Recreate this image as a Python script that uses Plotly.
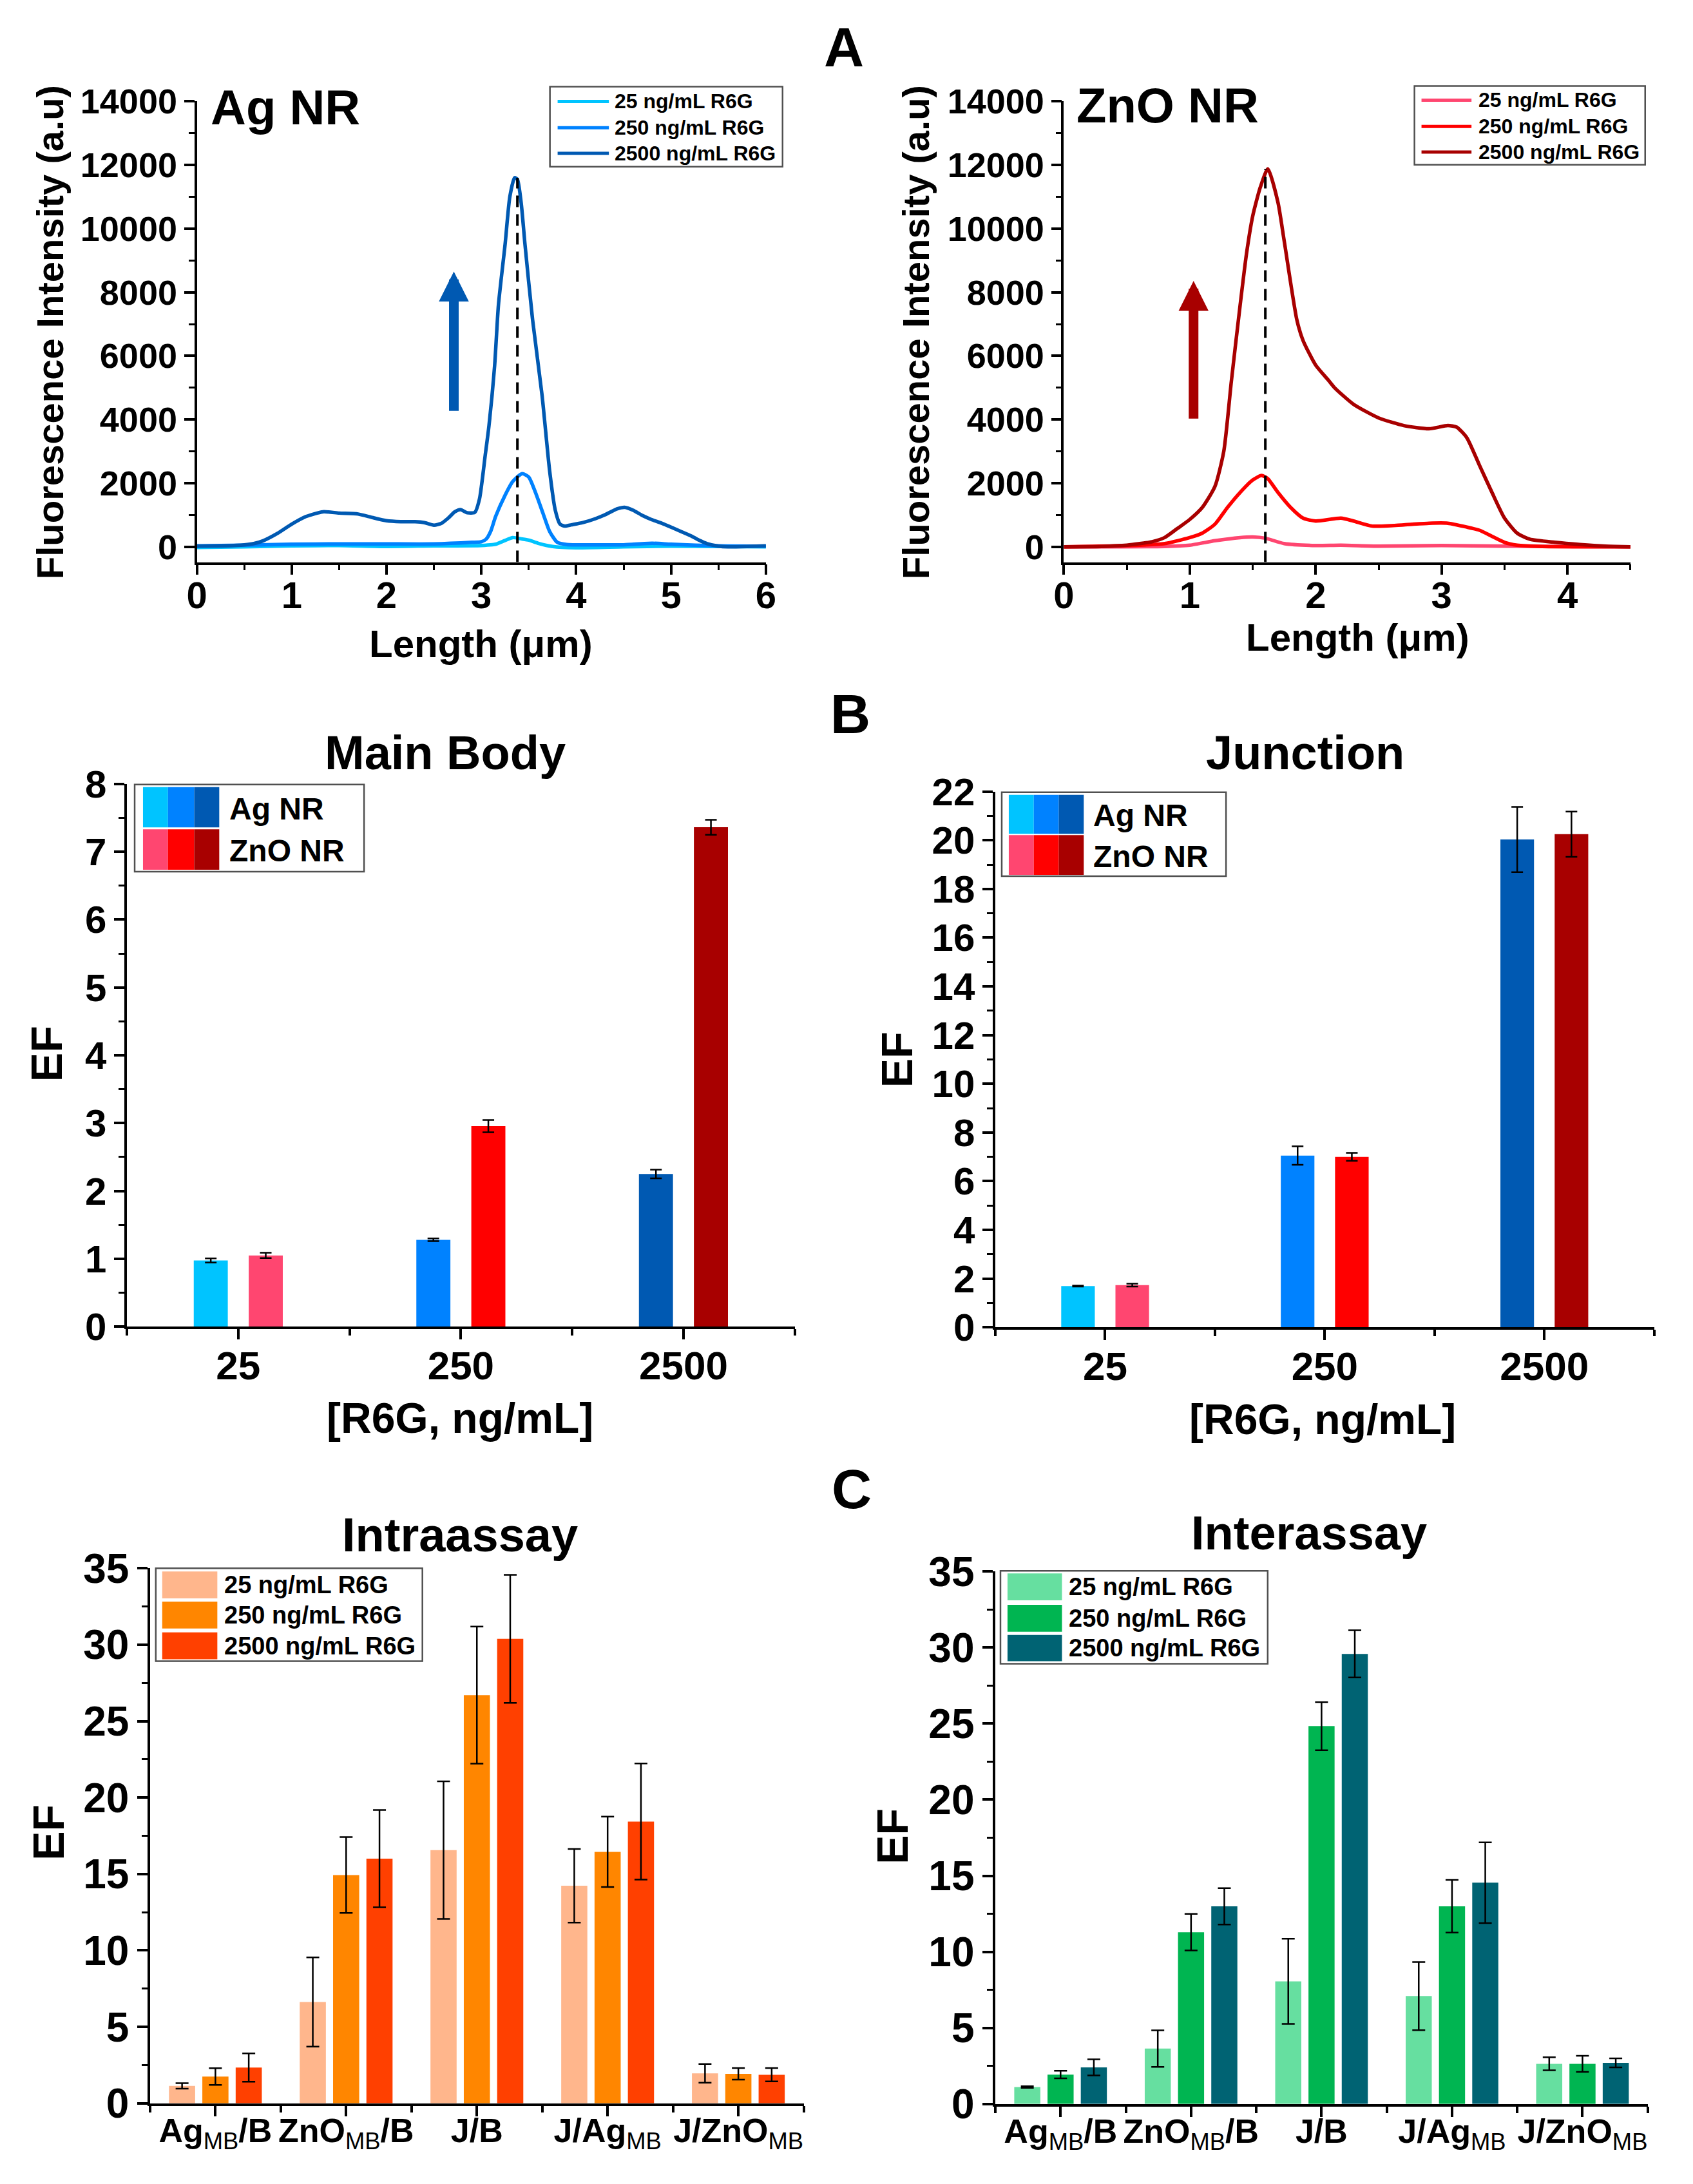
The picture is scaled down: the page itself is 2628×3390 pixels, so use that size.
import plotly.graph_objects as go

W, H = 2628, 3390
FONT = "Liberation Sans"

# ---- panel A : fluorescence line profiles ----
ag25_x = [0.0, 0.5, 1.0, 1.5, 2.0, 2.5, 3.0, 3.15, 3.25, 3.33, 3.42, 3.5, 3.6, 3.75, 4.0, 4.5, 5.0, 5.5, 6.0]
ag25_y = [-20, 0, 30, 40, 10, 30, 40, 80, 200, 290, 250, 210, 110, 10, -30, 0, 20, 10, 0]
ag250_x = [0.0, 0.5, 1.0, 1.5, 2.0, 2.5, 2.9, 3.0, 3.05, 3.1, 3.15, 3.25, 3.33, 3.43, 3.5, 3.57, 3.65,
           3.72, 3.8, 3.9, 4.2, 4.5, 4.8, 5.0, 5.5, 6.0]
ag250_y = [30, 50, 80, 90, 90, 90, 140, 160, 240, 500, 950, 1620, 2050, 2300, 2190, 1710, 1050,
           480, 140, 70, 60, 60, 110, 80, 30, 20]
ag2500_x = [0.0, 0.3, 0.5, 0.6, 0.7, 0.85, 1.0, 1.15, 1.33, 1.5, 1.7, 1.85, 2.0, 2.15, 2.3, 2.4, 2.5,
            2.58, 2.65, 2.72, 2.78, 2.85, 2.93, 2.98, 3.04, 3.08, 3.14, 3.18, 3.25, 3.3, 3.35, 3.38,
            3.42, 3.46, 3.54, 3.64, 3.72, 3.78, 3.83, 3.88, 3.95, 4.07, 4.2, 4.3, 4.43, 4.51, 4.6,
            4.7, 4.79, 4.9, 5.02, 5.12, 5.22, 5.3, 5.38, 5.5, 5.6, 5.8, 6.0]
ag2500_y = [20, 30, 60, 100, 190, 420, 710, 950, 1100, 1060, 1030, 920, 820, 790, 790, 760, 680,
            740, 900, 1100, 1170, 1070, 1080, 1500, 2860, 3800, 5700, 7600, 9500, 11000, 11600, 11550,
            10800, 9500, 7140, 4760, 2380, 1140, 710, 650, 690, 760, 880, 1000, 1190, 1240, 1150,
            980, 860, 740, 590, 460, 330, 200, 100, 20, 0, 10, 30]

zn25_x = [0.0, 0.8, 1.0, 1.2, 1.4, 1.5, 1.6, 1.75, 2.0, 2.2, 2.5, 3.0, 3.5, 4.0, 4.5]
zn25_y = [0, 10, 50, 190, 290, 310, 270, 100, 40, 50, 20, 40, 20, 10, 0]
zn250_x = [0.0, 0.6, 0.8, 1.0, 1.1, 1.2, 1.3, 1.4, 1.5, 1.57, 1.62, 1.7, 1.8, 1.9, 2.0, 2.2, 2.3,
           2.45, 2.7, 2.9, 3.05, 3.2, 3.3, 3.4, 3.5, 3.6, 3.8, 4.5]
zn250_y = [0, 50, 100, 290, 430, 710, 1240, 1710, 2100, 2240, 2140, 1710, 1240, 900, 810, 900, 810,
           650, 690, 740, 740, 620, 520, 330, 140, 50, 10, 0]
zn2500_x = [0.0, 0.3, 0.5, 0.7, 0.8, 0.9, 1.0, 1.1, 1.2, 1.27, 1.33, 1.4, 1.45, 1.5, 1.56, 1.62, 1.7,
            1.75, 1.85, 1.9, 2.0, 2.1, 2.15, 2.3, 2.5, 2.7, 2.9, 3.05, 3.12, 3.2, 3.3, 3.4, 3.5,
            3.6, 3.7, 3.9, 4.1, 4.3, 4.5]
zn2500_y = [0, 10, 50, 160, 290, 570, 860, 1240, 1900, 3000, 5200, 7600, 9200, 10400, 11300, 11880, 10830,
            9610, 7140, 6480, 5710, 5240, 5000, 4480, 4050, 3810, 3710, 3810, 3760, 3430, 2570, 1710, 900,
            430, 240, 140, 70, 20, 0]

ag_peak = (3.38, 11600)
zn_peak = (1.60, 11880)
ag_arrow = (2.71, 4240, 8650)   # x, tail, tip
zn_arrow = (1.03, 4000, 8360)

conc_names = ["25 ng/mL R6G", "250 ng/mL R6G", "2500 ng/mL R6G"]
ag_colors = ["#00C4FF", "#0082FF", "#0059B2"]
zn_colors = ["#FF4670", "#FF0000", "#A80000"]

# ---- panel B : EF main body / junction ----
conc_labels = ["25", "250", "2500"]
mb_ag = [0.975, 1.28, 2.25]
mb_ag_err = [0.03, 0.02, 0.065]
mb_zn = [1.05, 2.955, 7.36]
mb_zn_err = [0.04, 0.09, 0.11]
jn_ag = [1.69, 7.05, 20.03]
jn_ag_err = [0.02, 0.38, 1.34]
jn_zn = [1.73, 7.0, 20.25]
jn_zn_err = [0.06, 0.16, 0.93]

# ---- panel C : intra / inter assay ----
ratio_labels = ["Ag<sub><span style='font-weight:normal'>MB</span></sub>/B",
                "ZnO<sub><span style='font-weight:normal'>MB</span></sub>/B",
                "J/B",
                "J/Ag<sub><span style='font-weight:normal'>MB</span></sub>",
                "J/ZnO<sub><span style='font-weight:normal'>MB</span></sub>"]
intra = [[1.14, 6.63, 16.56, 14.23, 1.96],
         [1.75, 14.93, 26.7, 16.45, 1.93],
         [2.34, 16.0, 30.38, 18.43, 1.87]]
intra_err = [[0.18, 2.92, 4.5, 2.41, 0.61],
             [0.55, 2.48, 4.48, 2.3, 0.38],
             [0.93, 3.18, 4.19, 3.8, 0.44]]
inter = [[1.11, 3.64, 8.06, 7.09, 2.64],
         [1.93, 11.29, 24.83, 12.99, 2.64],
         [2.4, 12.99, 29.58, 14.54, 2.7]]
inter_err = [[0.05, 1.2, 2.8, 2.24, 0.43],
             [0.25, 1.2, 1.58, 1.73, 0.53],
             [0.53, 1.2, 1.55, 2.65, 0.3]]
intra_colors = ["#FFB68C", "#FF8600", "#FF4000"]
inter_colors = ["#66DFA0", "#00B551", "#006373"]


# the page comes out slightly shifted/shrunk, so pixel targets are corrected here
def X(px):
    return ((px - 20) / 0.993) / W


def Y(py):
    return 1 - ((py - 43) / 0.984) / H


def bfont(size):
    return dict(family=FONT, size=size, color="black", weight="bold")


def axis(dom, rng, size, **kw):
    d = dict(domain=dom, range=rng, showline=True, linecolor="black", linewidth=3.5,
             ticks="outside", ticklen=16, tickwidth=3.5, tickcolor="black",
             showgrid=False, zeroline=False, tickfont=bfont(size))
    d.update(kw)
    return d


fig = go.Figure()

# line profiles
for xs, ys, c, n in zip([ag25_x, ag250_x, ag2500_x], [ag25_y, ag250_y, ag2500_y], ag_colors, conc_names):
    fig.add_trace(go.Scatter(x=xs, y=ys, mode="lines", name=n, line=dict(color=c, width=5.5, shape="spline", smoothing=0.6),
                             xaxis="x", yaxis="y", showlegend=False))
for xs, ys, c, n in zip([zn25_x, zn250_x, zn2500_x], [zn25_y, zn250_y, zn2500_y], zn_colors, conc_names):
    fig.add_trace(go.Scatter(x=xs, y=ys, mode="lines", name=n, line=dict(color=c, width=5.5, shape="spline", smoothing=0.6),
                             xaxis="x2", yaxis="y2", showlegend=False))
A_YMIN = -483
fig.add_trace(go.Scatter(x=[ag_peak[0]] * 2, y=[A_YMIN, ag_peak[1]], mode="lines",
                         line=dict(color="black", width=4, dash="18px,11px"), xaxis="x", yaxis="y", showlegend=False))
fig.add_trace(go.Scatter(x=[zn_peak[0]] * 2, y=[A_YMIN, zn_peak[1]], mode="lines",
                         line=dict(color="black", width=4, dash="18px,11px"), xaxis="x2", yaxis="y2", showlegend=False))

# EF bars, panel B
pos3 = [0, 1, 2]
for xa, ya, ag, age, zn, zne in [("x3", "y3", mb_ag, mb_ag_err, mb_zn, mb_zn_err),
                                 ("x4", "y4", jn_ag, jn_ag_err, jn_zn, jn_zn_err)]:
    fig.add_trace(go.Bar(x=pos3, y=ag, width=0.153, offset=-0.2, marker=dict(color=ag_colors, line=dict(width=0)),
                         error_y=dict(type="data", array=age, color="black", thickness=2.5, width=9),
                         xaxis=xa, yaxis=ya, showlegend=False))
    fig.add_trace(go.Bar(x=pos3, y=zn, width=0.153, offset=0.047, marker=dict(color=zn_colors, line=dict(width=0)),
                         error_y=dict(type="data", array=zne, color="black", thickness=2.5, width=9),
                         xaxis=xa, yaxis=ya, showlegend=False))

# assay bars, panel C
pos5 = [0, 1, 2, 3, 4]
offs = [-0.355, -0.1, 0.155]
for xa, ya, vals, errs, cols in [("x5", "y5", intra, intra_err, intra_colors),
                                 ("x6", "y6", inter, inter_err, inter_colors)]:
    for k in range(3):
        fig.add_trace(go.Bar(x=pos5, y=vals[k], width=0.2, offset=offs[k], name=conc_names[k],
                             marker=dict(color=cols[k], line=dict(width=0)),
                             error_y=dict(type="data", array=errs[k], color="black", thickness=2.5, width=10),
                             xaxis=xa, yaxis=ya, showlegend=False))

ann = []
shapes = []


def text(x, y, s, size, xanchor="center", angle=0):
    ann.append(dict(x=X(x), y=Y(y), xref="paper", yref="paper", text=s, showarrow=False,
                    font=bfont(size), xanchor=xanchor, yanchor="middle", textangle=angle))


# arrows in panel A
for xr, yr, (ax_, tail, tip), c in [("x", "y", ag_arrow, ag_colors[2]), ("x2", "y2", zn_arrow, zn_colors[2])]:
    ann.append(dict(x=ax_, y=tip, ax=ax_, ay=tail, xref=xr, yref=yr, axref=xr, ayref=yr, text="",
                    showarrow=True, arrowhead=2, arrowsize=0.62, arrowwidth=15, arrowcolor=c))

# panel labels and titles
text(1313, 72, "A", 86)
text(1323, 1113, "B", 86)
text(1325, 2322, "C", 86)
text(323, 166, "Ag NR", 76, xanchor="left")
text(1674, 163, "ZnO NR", 76, xanchor="left")
text(690, 1174, "Main Body", 74)
text(2032, 1174, "Junction", 74)
text(714, 2394, "Intraassay", 74)
text(2039, 2391, "Interassay", 74)

# axis titles
text(74, 517, "Fluorescence Intensity (a.u)", 58, angle=-90)
text(1425, 517, "Fluorescence Intensity (a.u)", 58, angle=-90)
text(746, 1004, "Length (\u03bcm)", 60)
text(2114, 994, "Length (\u03bcm)", 60)
text(69, 1643, "EF", 68, angle=-90)
text(1396, 1652, "EF", 68, angle=-90)
text(714, 2212, "[R6G, ng/mL]", 66)
text(2060, 2214, "[R6G, ng/mL]", 66)
text(71, 2858, "EF", 68, angle=-90)
text(1388, 2864, "EF", 68, angle=-90)


def box(x0, y0, x1, y1):
    shapes.append(dict(type="rect", xref="paper", yref="paper", x0=X(x0), x1=X(x1), y0=Y(y1), y1=Y(y0),
                       line=dict(color="#505050", width=2.5), fillcolor="white", layer="above"))


def rect(x0, y0, x1, y1, c):
    shapes.append(dict(type="rect", xref="paper", yref="paper", x0=X(x0), x1=X(x1), y0=Y(y1), y1=Y(y0),
                       line=dict(width=0), fillcolor=c, layer="above"))


# legends panel A
for (bx0, by0, bx1, by1, lx0, lx1, tx, rows, cols) in [
        (854, 134, 1217, 259, 866, 946, 953, [157, 198, 238], ag_colors),
        (2203, 133, 2563, 256, 2214, 2292, 2301, [155, 196, 236], zn_colors)]:
    box(bx0, by0, bx1, by1)
    for r, c, n in zip(rows, cols, conc_names):
        shapes.append(dict(type="line", xref="paper", yref="paper", x0=X(lx0), x1=X(lx1), y0=Y(r), y1=Y(r),
                           line=dict(color=c, width=5), layer="above"))
        text(tx, r, n, 32, xanchor="left")

# legends panel B
for (bx0, by0, bx1, by1, xs, rows, tx) in [
        (206, 1223, 564, 1359, [219, 258, 299, 338], [(1227, 1290), (1293, 1356)], 352),
        (1559, 1235, 1909, 1366, [1570, 1609, 1648, 1687], [(1239, 1300), (1302, 1364)], 1700)]:
    box(bx0, by0, bx1, by1)
    for (r0, r1), cols, n in zip(rows, [ag_colors, zn_colors], ["Ag NR", "ZnO NR"]):
        for k in range(3):
            rect(xs[k], r0, xs[k + 1], r1, cols[k])
        text(tx, (r0 + r1) / 2 + 2, n, 48, xanchor="left")

# legends panel C
for (bx0, by0, bx1, by1, sx0, sx1, rows, tx, cols) in [
        (239, 2446, 655, 2591, 249, 335, [(2451, 2493), (2498, 2540), (2546, 2588)], 344, intra_colors),
        (1557, 2450, 1974, 2595, 1568, 1653, [(2454, 2496), (2503, 2545), (2550, 2591)], 1662, inter_colors)]:
    box(bx0, by0, bx1, by1)
    for (r0, r1), c, n in zip(rows, cols, conc_names):
        rect(sx0, r0, sx1, r1, c)
        text(tx, (r0 + r1) / 2, n, 38, xanchor="left")

minor_cat = dict(ticks="outside", ticklen=10, tickwidth=3.5, tickcolor="black", tick0=-0.5, dtick=1)


def minor(step):
    return dict(ticks="outside", ticklen=9, tickwidth=3, tickcolor="black", dtick=step, tick0=0)


fig.update_layout(
    width=W, height=H, margin=dict(l=0, r=0, t=0, b=0),
    paper_bgcolor="white", plot_bgcolor="white", barmode="overlay",
    font=dict(family=FONT, color="black"),
    annotations=ann, shapes=shapes,
    xaxis=axis([X(303), X(1191)], [0, 6], 58, anchor="y", dtick=1, tick0=0, minor=minor(0.5),
               ticklabelstandoff=-18),
    yaxis=axis([Y(876), Y(157)], [A_YMIN, 14000], 54, anchor="x", dtick=2000, tick0=0, tickformat="d",
               minor=minor(1000)),
    xaxis2=axis([X(1656), X(2540)], [0, 4.5], 58, anchor="y2", dtick=1, tick0=0, minor=minor(0.5),
                ticklabelstandoff=-18),
    yaxis2=axis([Y(876), Y(157)], [A_YMIN, 14000], 54, anchor="x2", dtick=2000, tick0=0, tickformat="d",
                minor=minor(1000)),
    xaxis3=axis([X(194), X(1236)], [-0.5, 2.5], 62, anchor="y3", tickvals=pos3, ticktext=conc_labels,
                minor=minor_cat, ticklabelstandoff=-12),
    yaxis3=axis([Y(2069), Y(1222)], [0, 8], 60, anchor="x3", dtick=1, tick0=0, minor=minor(0.5)),
    xaxis4=axis([X(1549), X(2577)], [-0.5, 2.5], 62, anchor="y4", tickvals=pos3, ticktext=conc_labels,
                minor=minor_cat, ticklabelstandoff=-12),
    yaxis4=axis([Y(2070), Y(1234)], [0, 22], 60, anchor="x4", dtick=2, tick0=0, minor=minor(1)),
    xaxis5=axis([X(230), X(1250)], [-0.5, 4.5], 52, anchor="y5", tickvals=pos5, ticktext=ratio_labels,
                minor=minor_cat, ticklabelstandoff=-22),
    yaxis5=axis([Y(3281), Y(2446)], [0, 35], 64, anchor="x5", dtick=5, tick0=0, minor=minor(2.5)),
    xaxis6=axis([X(1549), X(2567)], [-0.5, 4.5], 52, anchor="y6", tickvals=pos5, ticktext=ratio_labels,
                minor=minor_cat, ticklabelstandoff=-22),
    yaxis6=axis([Y(3282), Y(2451)], [0, 35], 64, anchor="x6", dtick=5, tick0=0, minor=minor(2.5)),
)

fig.write_html("out.html")
